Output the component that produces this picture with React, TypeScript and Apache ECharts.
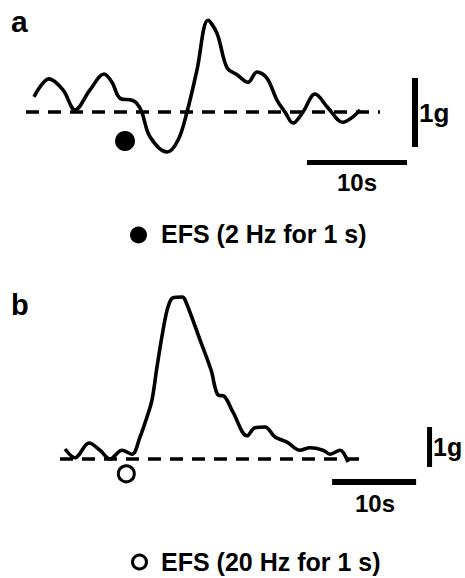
import React, { useEffect, useRef } from "react";
import * as echarts from "echarts";

// Panel a: time (s) and acceleration (g)
const timeA = [0, 1.5, 2.9, 4.1, 5.6, 7.0, 7.8, 8.6, 9.8, 10.3, 10.8, 11.6, 13.3, 14.4, 15.3, 16.3, 17.4, 18.3, 19.3, 20.3, 21.4, 22.3, 23.3, 24.3, 25.1, 25.9, 26.9, 28.1, 29.4, 30.9, 31.9, 32.6];
const accelA = [0.22, 0.48, 0.32, 0.03, 0.32, 0.55, 0.43, 0.2, 0.17, 0.12, -0.01, -0.36, -0.58, -0.41, 0, 0.61, 1.33, 1.14, 0.64, 0.54, 0.43, 0.58, 0.49, 0.17, 0, -0.16, 0, 0.26, 0.06, -0.15, -0.07, 0.03];
const stimA = [9.1, -0.42];
const baselineA = [-0.8, 34.6];

// Panel b
const timeB = [0, 1.19, 2.86, 4.17, 5.36, 6.79, 7.98, 8.93, 9.76, 10.36, 10.95, 11.67, 12.26, 12.86, 13.93, 14.29, 16.07, 17.38, 18.21, 18.93, 20.0, 21.67, 22.62, 23.81, 25.0, 26.43, 27.98, 29.17, 30.71, 31.55, 32.74, 33.69];
const accelB = [0.25, 0.03, 0.4, 0.22, 0, 0.22, 0.12, 0.55, 1.05, 1.48, 2.3, 3.22, 3.8, 4.03, 4.05, 3.98, 2.98, 2.23, 1.6, 1.57, 1.17, 0.58, 0.78, 0.8, 0.55, 0.42, 0.22, 0.28, 0.22, 0.12, 0.22, -0.08];
const stimB = [7.3, -0.37];
const baselineB = [-0.6, 35.4];

// Scale bars
const scaleG = 1;
const scaleS = 10;
const legendA = "EFS (2 Hz for 1 s)";
const legendB = "EFS (20 Hz for 1 s)";

const FONT = '"Liberation Sans", Arial, Helvetica, sans-serif';

function txt(text: string, x: number, y: number, size: number, align = "left") {
  return {
    type: "text",
    x,
    y,
    style: {
      text,
      fill: "#000",
      fontSize: size,
      fontWeight: "bold",
      fontFamily: FONT,
      align,
      verticalAlign: "middle",
      textAlign: align,
      textVerticalAlign: "middle",
    },
  };
}

export default function App() {
  const ref = useRef<HTMLDivElement>(null);
  useEffect(() => {
    if (!ref.current) return;
    const chart = echarts.init(ref.current, undefined, { renderer: "svg" });
    const lineS = (data: number[][], idx: number, width: number, dash?: number[]) => ({
      type: "line",
      xAxisIndex: idx,
      yAxisIndex: idx,
      data,
      showSymbol: false,
      symbol: "none",
      silent: true,
      lineStyle: { color: "#000", width, type: dash ? dash : "solid", cap: "butt", opacity: 1 },
    });
    const trace = (t: number[], g: number[], idx: number) => ({
      ...lineS(t.map((v, i) => [v, g[i]]), idx, 3.6),
      smooth: 0.35,
      z: 3,
    });
    const option = {
      animation: false,
      backgroundColor: "#fff",
      grid: [
        { left: 14, top: 8.5, width: 420, height: 186.3 },
        { left: 31.4, top: 279, width: 420, height: 240 },
      ],
      xAxis: [
        { type: "value", gridIndex: 0, min: -2, max: 40, show: false },
        { type: "value", gridIndex: 1, min: -4, max: 46, show: false },
      ],
      yAxis: [
        { type: "value", gridIndex: 0, min: -1.2, max: 1.5, show: false },
        { type: "value", gridIndex: 1, min: -1.5, max: 4.5, show: false },
      ],
      series: [
        trace(timeA, accelA, 0),
        lineS([[baselineA[0], 0], [baselineA[1], 0]], 0, 3.5, [13, 9]),
        lineS([[38.1, 0.493], [38.1, 0.493 - scaleG]], 0, 6),
        lineS([[27.3, -0.732], [27.3 + scaleS, -0.732]], 0, 5),
        {
          type: "scatter",
          xAxisIndex: 0,
          yAxisIndex: 0,
          data: [stimA],
          symbol: "circle",
          symbolSize: 20,
          itemStyle: { color: "#000", opacity: 1 },
          silent: true,
        },
        trace(timeB, accelB, 1),
        lineS([[baselineB[0], 0], [baselineB[1], 0]], 1, 3.5, [13, 9]),
        lineS([[43.4, 0.8], [43.4, 0.8 - scaleG]], 1, 5),
        lineS([[31.8, -0.575], [31.8 + scaleS, -0.575]], 1, 6),
        {
          type: "scatter",
          xAxisIndex: 1,
          yAxisIndex: 1,
          data: [stimB],
          symbol: "circle",
          symbolSize: 16,
          itemStyle: { color: "#fff", borderColor: "#000", borderWidth: 3, opacity: 1 },
          silent: true,
          z: 4,
        },
      ],
      graphic: [
        txt("a", 11, 21.5, 30),
        txt("b", 11, 305, 29),
        txt(scaleG + "g", 419, 112.5, 26),
        txt(scaleS + "s", 357, 182, 24, "center"),
        txt(scaleG + "g", 433, 447, 25),
        txt(scaleS + "s", 375, 503, 24, "center"),
        { type: "circle", shape: { cx: 138.5, cy: 235, r: 8.5 }, style: { fill: "#000" } },
        txt(legendA, 161, 234, 25),
        { type: "circle", shape: { cx: 139.5, cy: 562, r: 7 }, style: { fill: "#fff", stroke: "#000", lineWidth: 3 } },
        txt(legendB, 161, 562, 25),
      ],
    };
    chart.setOption(option as any);
    return () => chart.dispose();
  }, []);
  return (
    <div
      ref={ref}
      style={{ position: "fixed", left: 0, top: 0, width: 465, height: 578, background: "#fff" }}
    />
  );
}
